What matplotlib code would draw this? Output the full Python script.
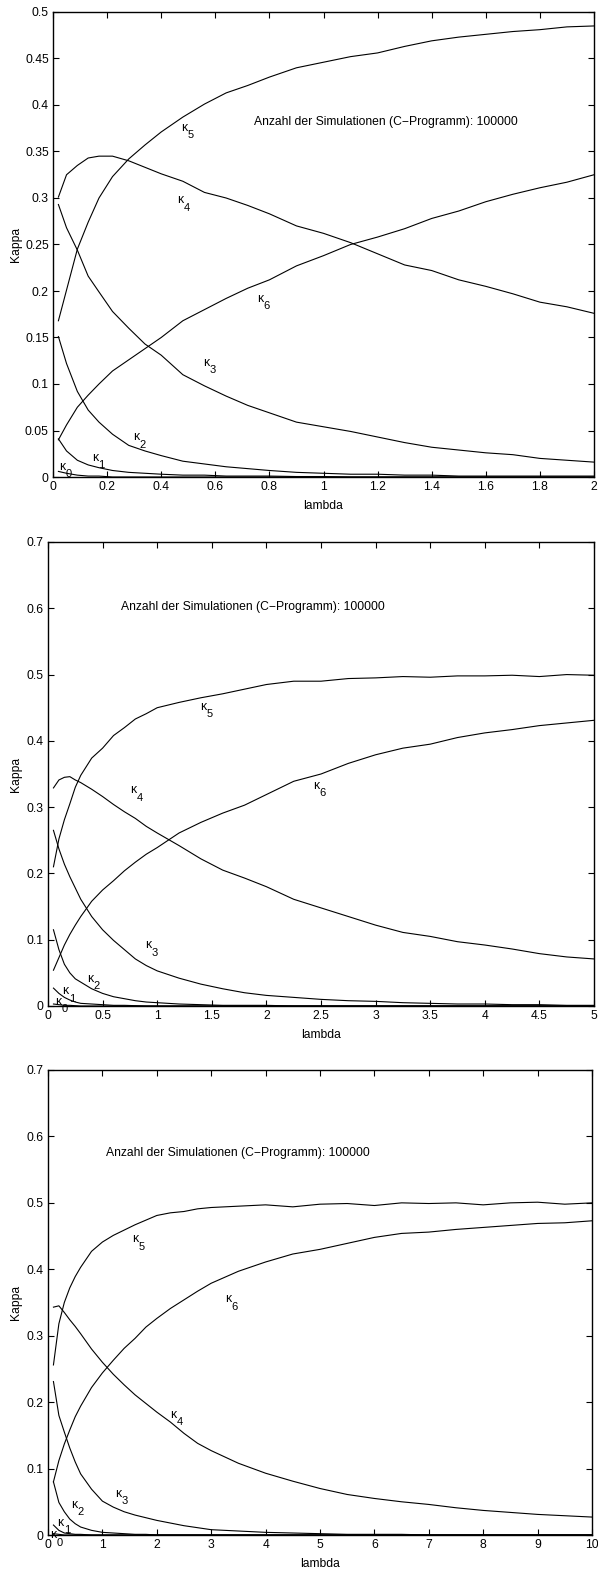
import matplotlib
matplotlib.use("Agg")
import matplotlib.pyplot as plt
import matplotlib.transforms as mtransforms
import numpy as np

plt.rcParams['font.family'] = ['Liberation Sans', 'DejaVu Sans']

# ---------------- Panel 1 : lambda 0..2 ----------------
lam1 = [0.02, 0.05, 0.09, 0.13, 0.17, 0.22, 0.28, 0.34, 0.40, 0.48, 0.56, 0.64, 0.72,
        0.80, 0.90, 1.00, 1.10, 1.20, 1.30, 1.40, 1.50, 1.60, 1.70, 1.80, 1.90, 2.00]
p1_k0 = [0.006, 0.004, 0.002, 0.001, 0.001] + [0.0] * 21
p1_k1 = [0.041, 0.028, 0.018, 0.013, 0.010, 0.007, 0.005, 0.004, 0.003, 0.002, 0.002, 0.001, 0.001,
         0.001, 0.0005, 0.0005, 0.0, 0.0, 0.0, 0.0, 0.0, 0.0, 0.0, 0.0, 0.0, 0.0]
p1_k2 = [0.151, 0.122, 0.092, 0.072, 0.059, 0.046, 0.034, 0.028, 0.023, 0.017, 0.014, 0.011, 0.009,
         0.007, 0.005, 0.004, 0.003, 0.003, 0.002, 0.002, 0.001, 0.001, 0.001, 0.001, 0.001, 0.001]
p1_k3 = [0.293, 0.268, 0.244, 0.216, 0.199, 0.178, 0.160, 0.143, 0.131, 0.110, 0.098, 0.087, 0.077,
         0.069, 0.059, 0.054, 0.049, 0.043, 0.037, 0.032, 0.029, 0.026, 0.024, 0.020, 0.018, 0.016]
p1_k4 = [0.301, 0.325, 0.335, 0.343, 0.345, 0.345, 0.340, 0.333, 0.326, 0.318, 0.306, 0.300, 0.292,
         0.283, 0.270, 0.262, 0.252, 0.240, 0.228, 0.222, 0.212, 0.205, 0.197, 0.188, 0.183, 0.176]
p1_k5 = [0.168, 0.201, 0.245, 0.274, 0.300, 0.323, 0.342, 0.357, 0.371, 0.387, 0.401, 0.413, 0.421,
         0.430, 0.440, 0.446, 0.452, 0.456, 0.463, 0.469, 0.473, 0.476, 0.479, 0.481, 0.484, 0.485]
p1_k6 = [0.040, 0.056, 0.075, 0.088, 0.100, 0.114, 0.126, 0.138, 0.150, 0.168, 0.180, 0.192, 0.203,
         0.212, 0.227, 0.238, 0.250, 0.258, 0.267, 0.278, 0.286, 0.296, 0.304, 0.311, 0.317, 0.325]

# ---------------- Panel 2 : lambda 0..5 ----------------
lam2 = [0.05, 0.10, 0.15, 0.20, 0.25, 0.30, 0.40, 0.50, 0.60, 0.70, 0.80, 0.90, 1.0, 1.2, 1.4,
        1.6, 1.8, 2.0, 2.25, 2.5, 2.75, 3.0, 3.25, 3.5, 3.75, 4.0, 4.25, 4.5, 4.75, 5.0]
p2_k0 = [0.003, 0.002, 0.001, 0.001, 0.0005] + [0.0] * 25
p2_k1 = [0.027, 0.019, 0.013, 0.009, 0.006, 0.004, 0.003, 0.002, 0.001, 0.001, 0.0005] + [0.0] * 19
p2_k2 = [0.115, 0.085, 0.063, 0.050, 0.041, 0.036, 0.026, 0.019, 0.014, 0.011, 0.008, 0.006, 0.005,
         0.003, 0.002, 0.001, 0.001, 0.001] + [0.0] * 12
p2_k3 = [0.265, 0.237, 0.214, 0.195, 0.178, 0.161, 0.135, 0.115, 0.099, 0.085, 0.071, 0.061, 0.053,
         0.042, 0.033, 0.026, 0.020, 0.016, 0.013, 0.010, 0.008, 0.007, 0.005, 0.004, 0.003, 0.003,
         0.002, 0.002, 0.001, 0.001]
p2_k4 = [0.329, 0.341, 0.345, 0.346, 0.341, 0.337, 0.327, 0.316, 0.304, 0.293, 0.283, 0.271, 0.261,
         0.242, 0.222, 0.205, 0.193, 0.180, 0.161, 0.148, 0.135, 0.122, 0.111, 0.105, 0.097, 0.092,
         0.086, 0.079, 0.074, 0.071]
p2_k5 = [0.210, 0.252, 0.281, 0.305, 0.330, 0.348, 0.374, 0.389, 0.408, 0.420, 0.433, 0.441, 0.450,
         0.458, 0.465, 0.471, 0.478, 0.485, 0.490, 0.490, 0.494, 0.495, 0.497, 0.496, 0.498, 0.498,
         0.499, 0.497, 0.500, 0.499]
p2_k6 = [0.054, 0.073, 0.092, 0.108, 0.122, 0.135, 0.158, 0.175, 0.189, 0.204, 0.217, 0.229, 0.239,
         0.261, 0.277, 0.291, 0.303, 0.319, 0.339, 0.350, 0.366, 0.379, 0.389, 0.395, 0.405, 0.412,
         0.417, 0.423, 0.427, 0.431]

# ---------------- Panel 3 : lambda 0..10 ----------------
lam3 = [0.1, 0.2, 0.3, 0.4, 0.5, 0.6, 0.8, 1.0, 1.2, 1.4, 1.6, 1.8, 2.0, 2.25, 2.5, 2.75, 3.0,
        3.5, 4.0, 4.5, 5.0, 5.5, 6.0, 6.5, 7.0, 7.5, 8.0, 8.5, 9.0, 9.5, 10.0]
p3_k0 = [0.002, 0.001] + [0.0] * 29
p3_k1 = [0.015, 0.007, 0.003, 0.002, 0.001, 0.001] + [0.0] * 25
p3_k2 = [0.080, 0.049, 0.035, 0.024, 0.017, 0.012, 0.007, 0.004, 0.003, 0.002, 0.001, 0.001] + [0.0] * 19
p3_k3 = [0.231, 0.180, 0.155, 0.131, 0.110, 0.092, 0.069, 0.051, 0.042, 0.035, 0.030, 0.026, 0.022,
         0.018, 0.014, 0.011, 0.008, 0.006, 0.004, 0.003, 0.002, 0.001, 0.001, 0.001,
         0.0, 0.0, 0.0, 0.0, 0.0, 0.0, 0.0]
p3_k4 = [0.343, 0.345, 0.335, 0.324, 0.314, 0.303, 0.280, 0.260, 0.242, 0.226, 0.211, 0.198, 0.185,
         0.170, 0.153, 0.138, 0.127, 0.108, 0.093, 0.081, 0.070, 0.061, 0.055, 0.050, 0.046, 0.041,
         0.037, 0.034, 0.031, 0.029, 0.027]
p3_k5 = [0.256, 0.318, 0.350, 0.372, 0.389, 0.403, 0.427, 0.441, 0.451, 0.459, 0.467, 0.474, 0.481,
         0.485, 0.487, 0.491, 0.493, 0.495, 0.497, 0.494, 0.498, 0.499, 0.496, 0.500, 0.499, 0.500,
         0.497, 0.500, 0.501, 0.498, 0.500]
p3_k6 = [0.080, 0.112, 0.137, 0.158, 0.178, 0.194, 0.222, 0.244, 0.263, 0.281, 0.296, 0.313, 0.326,
         0.341, 0.354, 0.367, 0.379, 0.397, 0.411, 0.423, 0.430, 0.439, 0.448, 0.454, 0.456, 0.460,
         0.463, 0.466, 0.469, 0.470, 0.473]

note = "Anzahl der Simulationen (C\u2212Programm): 100000"

# kappa label positions (data coords: left x, centre y), index = subscript
lab1 = [(0.022, 0.0075), (0.144, 0.017), (0.296, 0.039), (0.555, 0.119), (0.458, 0.294), (0.473, 0.372), (0.754, 0.188)]
lab2 = [(0.065, 0.0015), (0.13, 0.017), (0.36, 0.036), (0.89, 0.086), (0.75, 0.320), (1.39, 0.446), (2.43, 0.327)]
lab3 = [(0.04, -0.006), (0.17, 0.0135), (0.42, 0.040), (1.23, 0.057), (2.24, 0.176), (1.54, 0.440), (3.25, 0.350)]

panels = [
    dict(rect=[53 / 598, 1 - 477 / 1572, 541 / 598, 465 / 1572], lam=lam1,
         ks=[p1_k0, p1_k1, p1_k2, p1_k3, p1_k4, p1_k5, p1_k6], xlim=(0, 2), ylim=(0, 0.5),
         xt=np.arange(0, 2.01, 0.2), yt=np.arange(0, 0.501, 0.05), labs=lab1, note=(0.743, 0.382)),
    dict(rect=[48 / 598, 1 - 1006 / 1572, 546 / 598, 464 / 1572], lam=lam2,
         ks=[p2_k0, p2_k1, p2_k2, p2_k3, p2_k4, p2_k5, p2_k6], xlim=(0, 5), ylim=(0, 0.7),
         xt=np.arange(0, 5.01, 0.5), yt=np.arange(0, 0.701, 0.1), labs=lab2, note=(0.67, 0.602)),
    dict(rect=[48 / 598, 1 - 1535 / 1572, 544 / 598, 465 / 1572], lam=lam3,
         ks=[p3_k0, p3_k1, p3_k2, p3_k3, p3_k4, p3_k5, p3_k6], xlim=(0, 10), ylim=(0, 0.7),
         xt=np.arange(0, 10.01, 1), yt=np.arange(0, 0.701, 0.1), labs=lab3, note=(1.07, 0.575)),
]

fs = 8.7
fig = plt.figure(figsize=(5.98, 15.72), dpi=100)
for p in panels:
    ax = fig.add_axes(p['rect'])
    for k in p['ks']:
        ax.plot(p['lam'], k, color='black', lw=0.8)
    ax.set_xlim(*p['xlim'])
    ax.set_ylim(*p['ylim'])
    ax.set_xticks(p['xt'])
    ax.set_yticks(p['yt'])
    ax.set_xticklabels(['%g' % round(v, 3) for v in p['xt']])
    ax.set_yticklabels(['%g' % round(v, 3) for v in p['yt']])
    ax.tick_params(direction='in', top=True, right=True, length=4.5, width=0.8,
                   labelsize=fs, pad=3)
    for s in ax.spines.values():
        s.set_linewidth(1.0)
    ax.set_xlabel('lambda', fontsize=fs)
    ax.set_ylabel('Kappa', fontsize=fs)
    h = p['rect'][3] * 1572
    w = p['rect'][2] * 598
    ax.xaxis.set_label_coords(0.5, -23 / h)
    ax.yaxis.set_label_coords(-(p['rect'][0] * 598 - 22) / w, 0.5)
    up = mtransforms.offset_copy(ax.transData, fig=fig, x=0, y=3.5, units='dots')
    down = mtransforms.offset_copy(ax.transData, fig=fig, x=6.5, y=-4.0, units='dots')
    for i, (lx, ly) in enumerate(p['labs']):
        ax.text(lx, ly, '\u03ba', fontsize=fs, ha='left', va='center', transform=up)
        ax.text(lx, ly, str(i), fontsize=fs - 0.7, ha='left', va='center', transform=down)
    ax.text(p['note'][0], p['note'][1], note, fontsize=fs, ha='left', va='center')

fig.savefig('out.png', dpi=100)
